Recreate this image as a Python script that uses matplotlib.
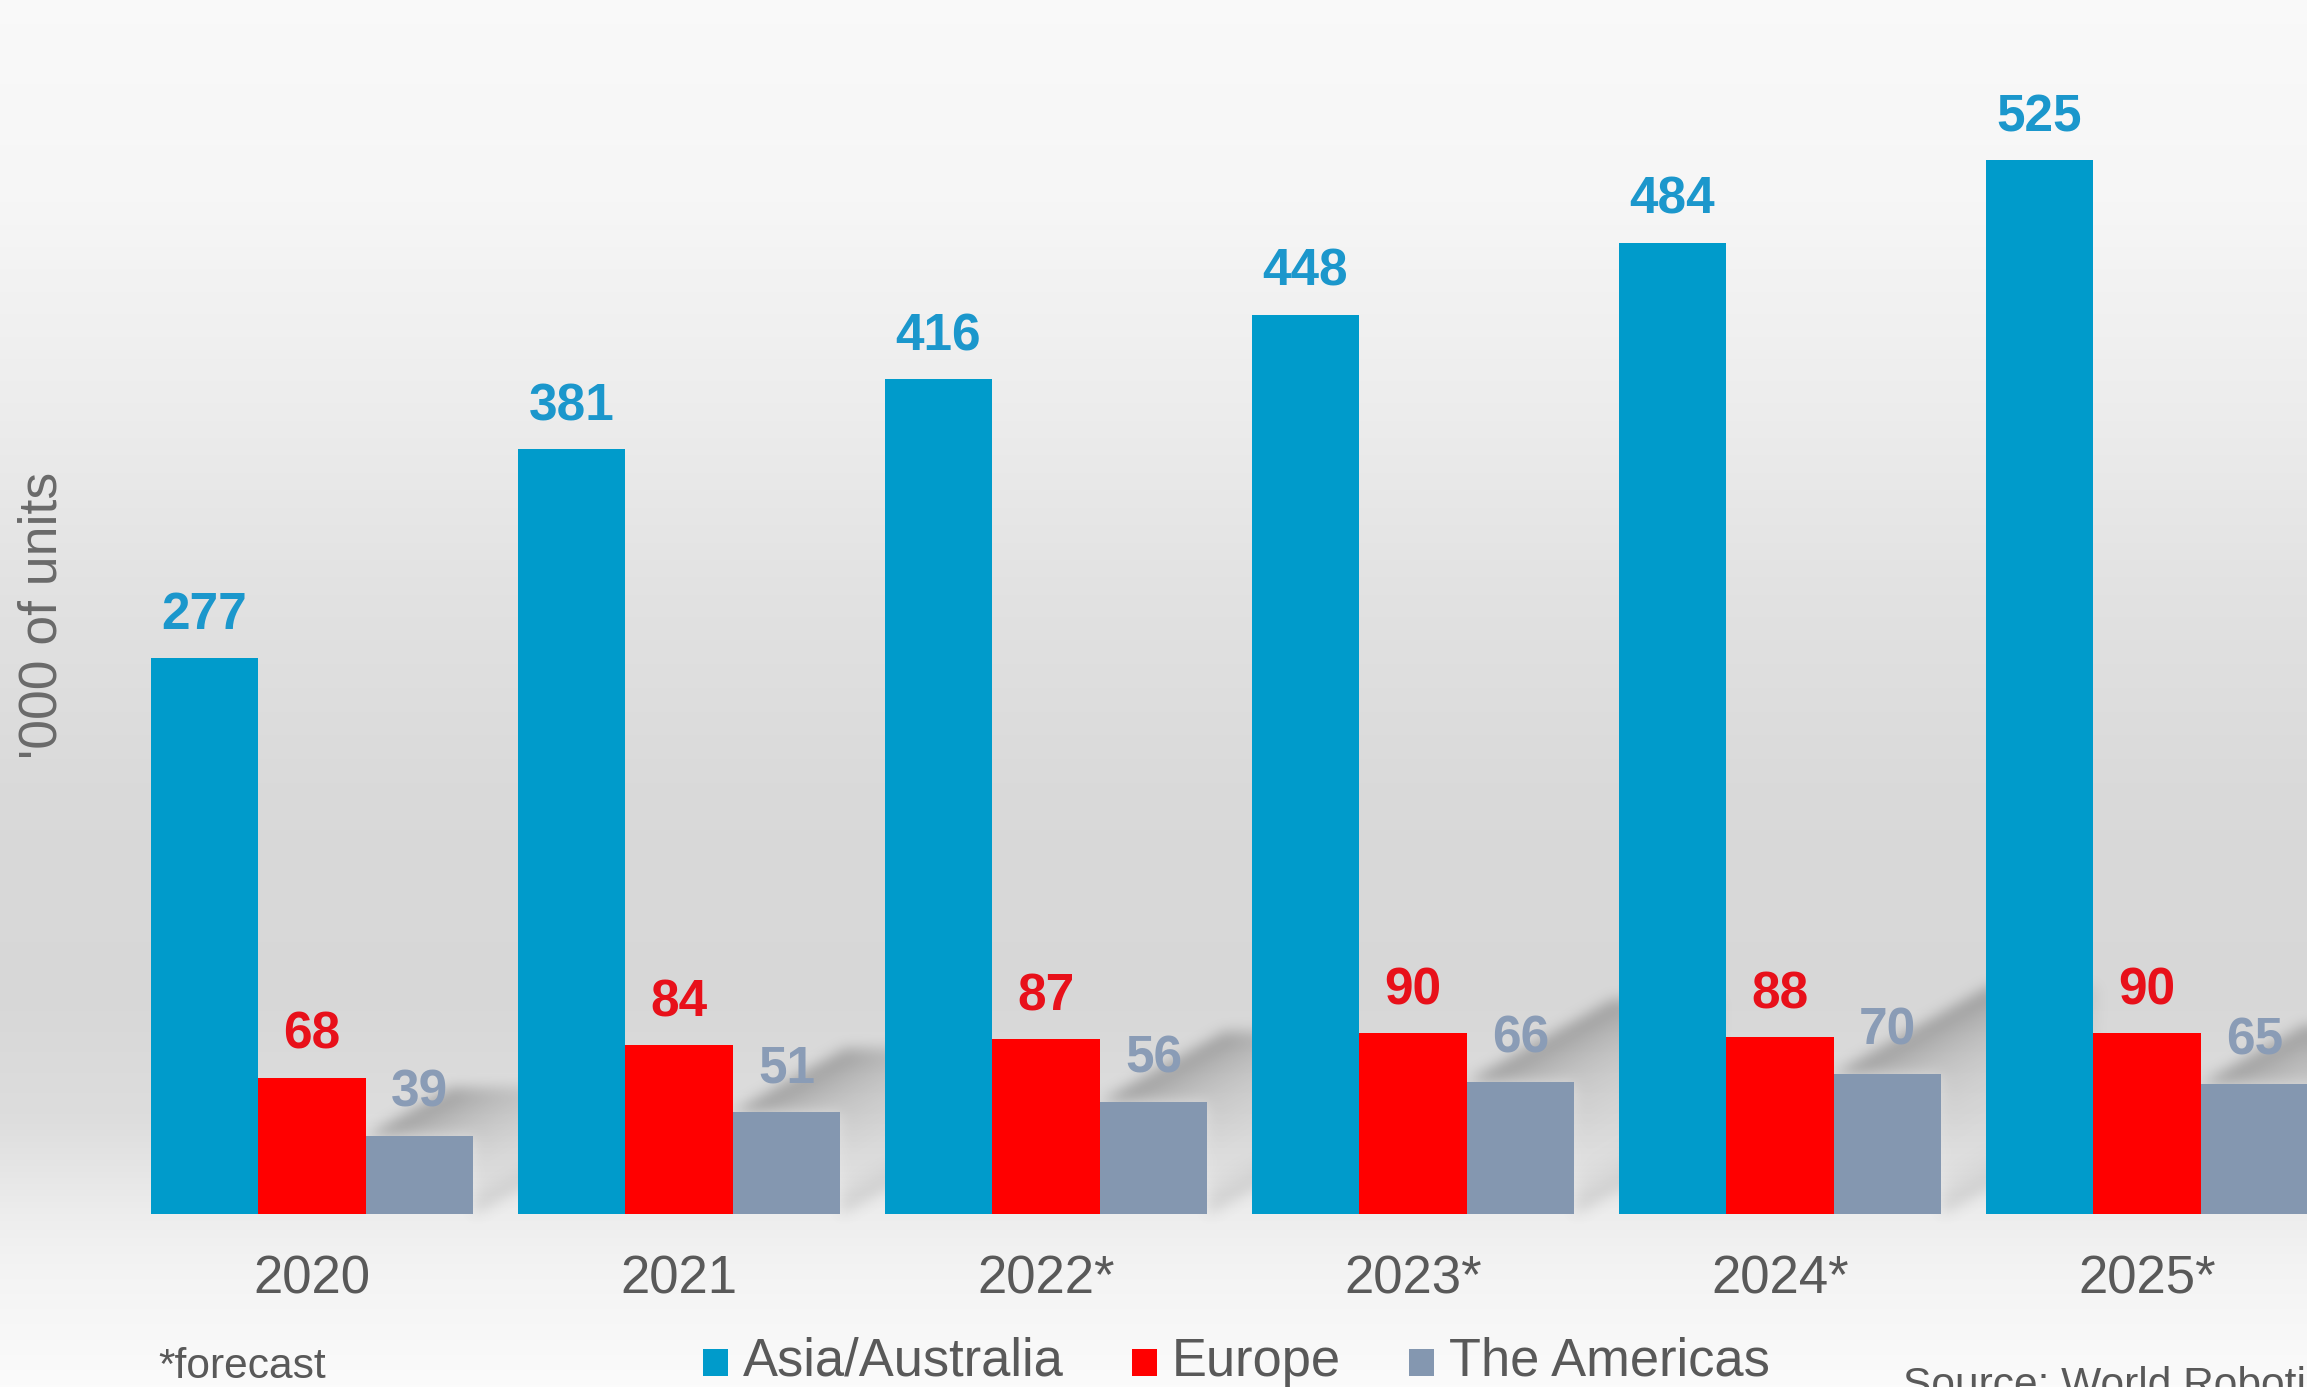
import numpy as np
import matplotlib
matplotlib.use("Agg")
import matplotlib.pyplot as plt
from matplotlib.patches import Rectangle

# ---- data -------------------------------------------------------------
years = ["2020", "2021", "2022*", "2023*", "2024*", "2025*"]
asia = [277, 381, 416, 448, 484, 525]
europe = [68, 84, 87, 90, 88, 90]
americas = [39, 51, 56, 66, 70, 65]
series_names = ["Asia/Australia", "Europe", "The Americas"]

# ---- style ------------------------------------------------------------
bar_colors = ["#009bcb", "#ff0000", "#8497b0"]
label_colors = ["#1b97cc", "#e8101a", "#8a9cb6"]
text_gray = "#595959"
FONT = "Liberation Sans"
plt.rcParams["font.family"] = [FONT, "DejaVu Sans"]

W, H, DPI = 2307, 1387, 100
fig = plt.figure(figsize=(W / DPI, H / DPI), dpi=DPI)
ax = fig.add_axes([0, 0, 1, 1])
ax.set_axis_off()

# one group per year, spaced 367 px; value scale ~2 px per thousand units
group_px = 367.0
unit_px = 2.007
first_center_px = 312.0
base_row = 1214.0
xl = -first_center_px / group_px
xr = (W - first_center_px) / group_px
yb = -(H - base_row) / unit_px
yt = base_row / unit_px
ax.set_xlim(xl, xr)
ax.set_ylim(yb, yt)

bw = 107.5 / group_px
x = np.arange(len(years))

# ---- background gradient (light top, grey middle, light floor) -------
stops_row = [0, 200, 400, 600, 800, 1000, 1120, 1214, 1260, 1387]
stops_val = [0.978, 0.965, 0.93, 0.885, 0.852, 0.845, 0.868, 0.93, 0.952, 0.985]
rows = np.arange(H)
g = np.interp(rows, stops_row, stops_val)
bg = np.repeat(g[:, None], 4, axis=1)
ax.imshow(np.dstack([bg, bg, bg]), extent=(xl, xr, yb, yt), origin="upper",
          aspect="auto", zorder=0, interpolation="bilinear")


# ---- soft diagonal shadows cast up-right by the Americas bars ---------
def box_blur(a, r, axis):
    pad = [(0, 0), (0, 0)]
    pad[axis] = (r + 1, r)
    p = np.pad(a, pad, mode="edge")
    c = np.cumsum(p, axis=axis)
    if axis == 0:
        return (c[2 * r + 1:, :] - c[:-2 * r - 1, :]) / (2 * r + 1)
    return (c[:, 2 * r + 1:] - c[:, :-2 * r - 1]) / (2 * r + 1)


shade = np.zeros((H, W))
for i, h in enumerate(americas):
    # bar corners in pixel space (rows counted from the top)
    (L, B), (R, T) = ax.transData.transform([(x[i] + bw / 2, 0),
                                             (x[i] + 1.5 * bw, h)])
    B, T = H - B, H - T
    hp = B - T
    dxp, dyp = 1.1 * hp, 0.62 * hp
    c0, c1 = int(L), int(min(R + dxp + 30, W))
    r0, r1 = int(max(T - dyp - 30, 0)), int(B)
    yy, xx = np.mgrid[r0:r1, c0:c1].astype(float)
    n = np.hypot(dxp, dyp)
    ux, uy = dxp / n, -dyp / n          # sweep direction (up-right)
    nx, ny = -uy, ux                    # normal pointing down-right
    # distance below/right of the upper sweep edge through the top-left corner
    d_up = (xx - L) * nx + (yy - T) * ny
    # distance above/left of the lower sweep edge through the bottom-right corner
    d_lo = -((xx - R) * nx + (yy - B) * ny)
    inside = (d_up >= 0) & (d_lo >= 0) & (xx <= R + dxp) & (yy >= T - dyp)
    inside &= ~((xx >= L) & (xx <= R) & (yy >= T))
    upper = np.exp(-d_up / 45.0)
    lower = 0.45 * np.exp(-d_lo / 22.0)
    val = np.where(inside, np.maximum(upper, lower), 0.0)
    shade[r0:r1, c0:c1] = np.maximum(shade[r0:r1, c0:c1], val)

for _ in range(3):
    shade = box_blur(shade, 6, 0)
    shade = box_blur(shade, 6, 1)

rgba = np.zeros((H, W, 4))
rgba[..., :3] = 0.42
rgba[..., 3] = np.clip(shade * 0.58, 0, 1)
ax.imshow(rgba, extent=(xl, xr, yb, yt), origin="upper", aspect="auto",
          zorder=1, interpolation="nearest")

# ---- bars -------------------------------------------------------------
all_series = [asia, europe, americas]
offsets = [-bw, 0.0, bw]
for vals, off, col, lcol in zip(all_series, offsets, bar_colors, label_colors):
    ax.bar(x + off, vals, width=bw, color=col, edgecolor="none",
           zorder=2, align="center")
    for xi, v in zip(x + off, vals):
        ax.annotate(str(v), (xi, v), xytext=(0, 20.9),
                    textcoords="offset points", ha="center", va="baseline",
                    fontsize=37.0, fontweight="bold", color=lcol, zorder=3)

# ---- category labels --------------------------------------------------
for xi, yr in zip(x, years):
    ax.annotate(yr, (xi, 0), xytext=(0, -57.6), textcoords="offset points",
                ha="center", va="baseline", fontsize=38.0, color=text_gray)

# ---- axis title ---------------------------------------------------------
fig.text(43 / W, 1 - 615 / H, "'000 of units", rotation=90, ha="center",
         va="center", fontsize=38.5, color="#6a6a6a")

# ---- legend (square swatch + name, laid out left to right) -------------
fig.canvas.draw()
renderer = fig.canvas.get_renderer()
cursor = 703.0
leg_base = 1376.0
sq = 25.0
for name, col in zip(series_names, bar_colors):
    fig.patches.append(Rectangle((cursor / W, (H - leg_base) / H),
                                 sq / W, 27.0 / H, transform=fig.transFigure,
                                 facecolor=col, edgecolor="none"))
    t = fig.text((cursor + sq + 15) / W, (H - leg_base) / H, name,
                 ha="left", va="baseline", fontsize=37.8, color=text_gray)
    bb = t.get_window_extent(renderer)
    cursor = bb.x1 + 68

# ---- notes ------------------------------------------------------------
fig.text(158 / W, (H - 1378) / H, "*forecast", ha="left", va="baseline",
         fontsize=30.6, color=text_gray)
fig.text(1903 / W, (H - 1397) / H, "Source: World Robotics", ha="left",
         va="baseline", fontsize=30.6, color=text_gray)

fig.savefig("out.png", dpi=DPI)
